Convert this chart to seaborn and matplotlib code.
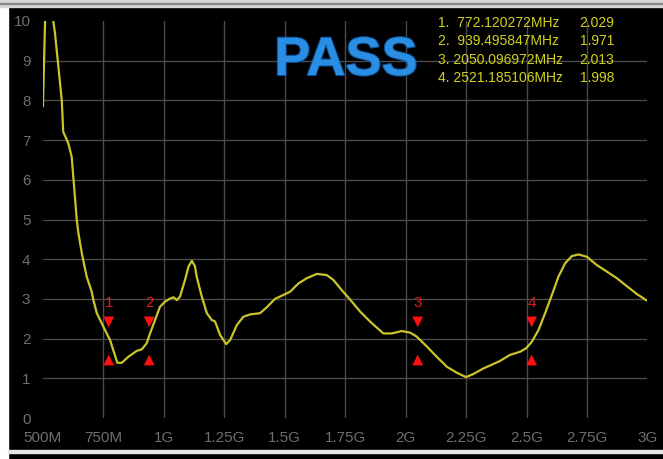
import matplotlib.pyplot as plt
import seaborn as sns
import pandas as pd
from matplotlib.patches import Rectangle
import matplotlib.patheffects as pe

# trace (MHz, VSWR)
freq_mhz = [500, 509, 525, 543, 550, 564, 578, 584, 605, 619, 629, 640, 647, 661,
            681, 702, 709, 723, 743, 764, 778, 791, 808, 826, 853, 888, 909, 929,
            943, 964, 984, 1005, 1026, 1040, 1054, 1067, 1088, 1102, 1116, 1129,
            1136, 1157, 1178, 1198, 1212, 1233, 1258, 1274, 1302, 1329, 1357, 1398,
            1426, 1460, 1495, 1522, 1557, 1591, 1633, 1674, 1701, 1736, 1768, 1812,
            1853, 1908, 1943, 1984, 2019, 2046, 2088, 2129, 2171, 2212, 2250, 2281,
            2322, 2363, 2391, 2432, 2474, 2499, 2522, 2550, 2577, 2605, 2632, 2660,
            2688, 2715, 2750, 2791, 2832, 2874, 2915, 2957, 3000]
vswr = [7.85, 10.0, 11.5, 10.0, 9.69, 8.85, 8.0, 7.21, 6.92, 6.58, 5.83, 4.99, 4.65, 4.15,
        3.56, 3.18, 2.97, 2.64, 2.39, 2.13, 1.96, 1.71, 1.39, 1.39, 1.54, 1.69, 1.73, 1.88,
        2.13, 2.47, 2.80, 2.93, 3.01, 3.04, 2.97, 3.06, 3.48, 3.81, 3.96, 3.82,
        3.56, 3.06, 2.64, 2.47, 2.43, 2.09, 1.86, 1.96, 2.34, 2.55, 2.61, 2.64,
        2.79, 3.00, 3.10, 3.18, 3.39, 3.52, 3.63, 3.60, 3.48, 3.22, 3.00, 2.68,
        2.43, 2.13, 2.13, 2.19, 2.15, 2.05, 1.80, 1.54, 1.29, 1.14, 1.03, 1.11,
        1.25, 1.36, 1.44, 1.59, 1.67, 1.76, 1.92, 2.22, 2.64, 3.10, 3.56, 3.90,
        4.08, 4.12, 4.06, 3.85, 3.69, 3.52, 3.32, 3.12, 2.95]

marker_ids = ["1", "2", "3", "4"]
marker_freq = [772.120272, 939.495847, 2050.096972, 2521.185106]
marker_vswr = [2.029, 1.971, 2.013, 1.998]

xticks = [500, 750, 1000, 1250, 1500, 1750, 2000, 2250, 2500, 2750, 3000]
xtick_labels = ["500M", "750M", "1G", "1.25G", "1.5G", "1.75G", "2G", "2.25G", "2.5G", "2.75G", "3G"]
yticks = list(range(0, 11))

trace = pd.DataFrame({"freq": freq_mhz, "vswr": vswr})
marks = pd.DataFrame({"freq": marker_freq, "id": marker_ids})

sns.set_style("dark")
plt.rcParams["font.family"] = ["Liberation Sans", "DejaVu Sans"]

W, H = 663, 459
fig = plt.figure(figsize=(W / 100, H / 100), dpi=100, facecolor="black")
ax = fig.add_axes([42.9 / W, 41 / H, 604.5 / W, 397 / H])
ax.set_facecolor("black")

def px(x, y):
    return x / W, 1 - y / H

# screen frame
fig.add_artist(Rectangle((0, 0), 8 / W, 1, color="white", transform=fig.transFigure, zorder=0))
fig.add_artist(Rectangle((0, 1 - 7 / H), 1, 7 / H, color="#d6d6d6", transform=fig.transFigure, zorder=0))
fig.add_artist(Rectangle((0, 1 - 4 / H), 1, 1.2 / H, color="#8a8a8a", transform=fig.transFigure, zorder=0))
fig.add_artist(Rectangle((8 / W, 1 - 452.5 / H), 1, 2.2 / H, color="#e4e4e4", transform=fig.transFigure, zorder=0))

sns.lineplot(data=trace, x="freq", y="vswr", ax=ax, color="#c9c52a", lw=1.6, zorder=3)

# marker triangles and numbers
sns.scatterplot(x=marks["freq"], y=[2.42] * len(marks), ax=ax, marker="v", s=60,
                color="#ff1010", edgecolor="none", zorder=4)
sns.scatterplot(x=marks["freq"], y=[1.46] * len(marks), ax=ax, marker="^", s=60,
                color="#ff1010", edgecolor="none", zorder=4)
for f, t in zip(marks["freq"], marks["id"]):
    ax.text(f, 2.9, t, color="#e81818", fontsize=11, ha="center", va="center", zorder=4)

ax.set_xlim(500, 3000)
ax.set_ylim(0, 10)
ax.set_xticks(xticks)
ax.set_xticklabels(xtick_labels)
ax.set_yticks(yticks)
ax.set_xlabel("")
ax.set_ylabel("")
ax.tick_params(axis="both", length=0, colors="#6e6e6e", labelsize=11)
ax.tick_params(axis="x", pad=9)
ax.tick_params(axis="y", pad=9)
ax.grid(True, color="#4a4a4a", lw=1)
for g in (ax.get_xgridlines()[0], ax.get_xgridlines()[-1],
          ax.get_ygridlines()[0], ax.get_ygridlines()[-1]):
    g.set_visible(False)
for s in ax.spines.values():
    s.set_visible(False)

# PASS stamp
fig.text(*px(346, 61), "PASS", fontsize=39, fontweight="bold", color="#2a8fe2",
         ha="center", va="center",
         path_effects=[pe.withStroke(linewidth=1.5, foreground="#0c4f96")])

# marker readout
for i, (f, v) in enumerate(zip(marker_freq, marker_vswr)):
    y = 23 + i * 18.4
    gap = "  " if f < 1000 else " "
    fig.text(*px(438, y), f"{i + 1}.{gap}{f:.6f}MHz", fontsize=10, color="#d2d21e",
             ha="left", va="center")
    fig.text(*px(614, y), f"{v:.3f}", fontsize=10, color="#d2d21e", ha="right", va="center")

fig.savefig("out.png", dpi=100, facecolor=fig.get_facecolor())
